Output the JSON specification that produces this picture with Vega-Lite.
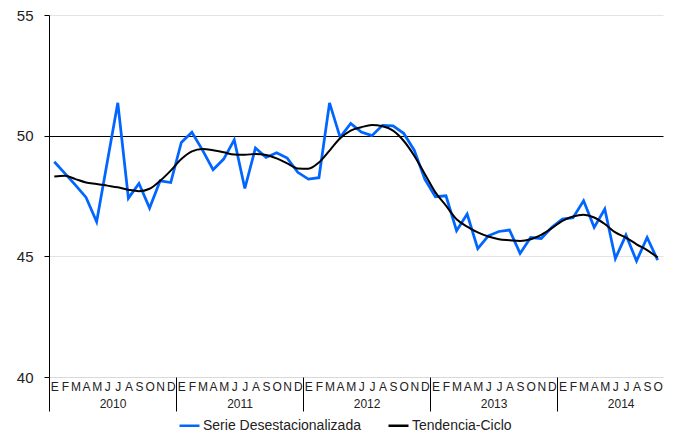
{
  "$schema": "https://vega.github.io/schema/vega-lite/v6.json",
  "autosize": {"type": "none"},
  "padding": {"left": 49, "top": 15, "right": 12, "bottom": 56},
  "width": 614,
  "height": 362,
  "background": "white",
  "config": {
    "view": {"stroke": null},
    "font": "Liberation Sans",
    "axis": {"labelFont": "Liberation Sans", "labelColor": "#222222"}
  },
  "datasets": {
    "serie": [
      {"m": 0, "v": 48.92}, {"m": 1, "v": 48.44}, {"m": 2, "v": 47.95}, {"m": 3, "v": 47.44},
      {"m": 4, "v": 46.43}, {"m": 5, "v": 48.9}, {"m": 6, "v": 51.36}, {"m": 7, "v": 47.41},
      {"m": 8, "v": 48.02}, {"m": 9, "v": 47.0}, {"m": 10, "v": 48.13}, {"m": 11, "v": 48.06},
      {"m": 12, "v": 49.72}, {"m": 13, "v": 50.14}, {"m": 14, "v": 49.4}, {"m": 15, "v": 48.59},
      {"m": 16, "v": 49.03}, {"m": 17, "v": 49.83}, {"m": 18, "v": 47.81}, {"m": 19, "v": 49.49},
      {"m": 20, "v": 49.1}, {"m": 21, "v": 49.29}, {"m": 22, "v": 49.07}, {"m": 23, "v": 48.48},
      {"m": 24, "v": 48.2}, {"m": 25, "v": 48.26}, {"m": 26, "v": 51.36}, {"m": 27, "v": 49.93},
      {"m": 28, "v": 50.51}, {"m": 29, "v": 50.15}, {"m": 30, "v": 50.0}, {"m": 31, "v": 50.43},
      {"m": 32, "v": 50.41}, {"m": 33, "v": 50.1}, {"m": 34, "v": 49.4}, {"m": 35, "v": 48.2},
      {"m": 36, "v": 47.47}, {"m": 37, "v": 47.51}, {"m": 38, "v": 46.06}, {"m": 39, "v": 46.75},
      {"m": 40, "v": 45.32}, {"m": 41, "v": 45.85}, {"m": 42, "v": 46.03}, {"m": 43, "v": 46.09},
      {"m": 44, "v": 45.12}, {"m": 45, "v": 45.78}, {"m": 46, "v": 45.74}, {"m": 47, "v": 46.2},
      {"m": 48, "v": 46.54}, {"m": 49, "v": 46.6}, {"m": 50, "v": 47.3}, {"m": 51, "v": 46.2},
      {"m": 52, "v": 46.96}, {"m": 53, "v": 44.91}, {"m": 54, "v": 45.88}, {"m": 55, "v": 44.81},
      {"m": 56, "v": 45.78}, {"m": 57, "v": 44.84}
    ],
    "tendencia": [
      {"m": 0, "v": 48.31}, {"m": 1, "v": 48.34}, {"m": 2, "v": 48.2}, {"m": 3, "v": 48.06},
      {"m": 4, "v": 48.0}, {"m": 5, "v": 47.93}, {"m": 6, "v": 47.86}, {"m": 7, "v": 47.76},
      {"m": 8, "v": 47.7}, {"m": 9, "v": 47.8}, {"m": 10, "v": 48.13}, {"m": 11, "v": 48.55},
      {"m": 12, "v": 49.03}, {"m": 13, "v": 49.35}, {"m": 14, "v": 49.45}, {"m": 15, "v": 49.4},
      {"m": 16, "v": 49.31}, {"m": 17, "v": 49.22}, {"m": 18, "v": 49.21}, {"m": 19, "v": 49.24},
      {"m": 20, "v": 49.2}, {"m": 21, "v": 49.06}, {"m": 22, "v": 48.85}, {"m": 23, "v": 48.64},
      {"m": 24, "v": 48.63}, {"m": 25, "v": 48.89}, {"m": 26, "v": 49.38}, {"m": 27, "v": 49.89},
      {"m": 28, "v": 50.21}, {"m": 29, "v": 50.35}, {"m": 30, "v": 50.44}, {"m": 31, "v": 50.39},
      {"m": 32, "v": 50.21}, {"m": 33, "v": 49.79}, {"m": 34, "v": 49.17}, {"m": 35, "v": 48.41},
      {"m": 36, "v": 47.65}, {"m": 37, "v": 47.1}, {"m": 38, "v": 46.54}, {"m": 39, "v": 46.23},
      {"m": 40, "v": 45.99}, {"m": 41, "v": 45.82}, {"m": 42, "v": 45.71}, {"m": 43, "v": 45.67},
      {"m": 44, "v": 45.64}, {"m": 45, "v": 45.71}, {"m": 46, "v": 45.89}, {"m": 47, "v": 46.17},
      {"m": 48, "v": 46.47}, {"m": 49, "v": 46.65}, {"m": 50, "v": 46.72}, {"m": 51, "v": 46.61},
      {"m": 52, "v": 46.34}, {"m": 53, "v": 45.99}, {"m": 54, "v": 45.78}, {"m": 55, "v": 45.5},
      {"m": 56, "v": 45.26}, {"m": 57, "v": 44.95}
    ]
  },
  "resolve": {"axis": {"x": "independent"}},
  "layer": [
    {
      "data": {"name": "serie"},
      "transform": [{"calculate": "'Serie Desestacionalizada'", "as": "s"}],
      "mark": {"type": "line", "strokeWidth": 2.75, "strokeJoin": "miter"},
      "encoding": {
        "x": {
          "field": "m", "type": "quantitative",
          "scale": {"domain": [-0.5, 57.5], "nice": false, "zero": false},
          "axis": {
            "orient": "bottom", "title": null,
            "values": [0,1,2,3,4,5,6,7,8,9,10,11,12,13,14,15,16,17,18,19,20,21,22,23,24,25,26,27,28,29,30,31,32,33,34,35,36,37,38,39,40,41,42,43,44,45,46,47,48,49,50,51,52,53,54,55,56,57],
            "labelExpr": "['E','F','M','A','M','J','J','A','S','O','N','D'][datum.value % 12]",
            "ticks": false, "grid": false,
            "domain": true, "domainColor": "#d9d9d9", "domainWidth": 1,
            "labelPadding": 4, "labelFontSize": 12, "labelOverlap": false,
            "labelBound": false, "labelFlush": false, "labelColor": "#222222"
          }
        },
        "y": {
          "field": "v", "type": "quantitative",
          "scale": {"domain": [40, 55], "nice": false, "zero": false},
          "axis": {
            "title": null, "values": [40, 45, 50, 55],
            "domain": true, "domainColor": "black", "domainWidth": 1,
            "ticks": true, "tickSize": 5, "tickColor": "black",
            "grid": true,
            "gridColor": {"condition": {"test": "datum.value === 50", "value": "black"}, "value": "#e3e3e3"},
            "gridWidth": 1,
            "labelPadding": 11, "labelFontSize": 15, "labelColor": "#222222"
          }
        },
        "color": {
          "field": "s", "type": "nominal",
          "scale": {"domain": ["Serie Desestacionalizada", "Tendencia-Ciclo"], "range": ["#0066ff", "#000000"]},
          "legend": {
            "title": null, "orient": "none", "direction": "horizontal",
            "legendX": 129, "legendY": 399,
            "symbolType": "stroke", "symbolSize": 400, "symbolStrokeWidth": 2.5,
            "labelFontSize": 14, "labelFont": "Liberation Sans", "labelColor": "#222222",
            "labelOffset": 2, "columnPadding": 22, "padding": 0
          }
        }
      }
    },
    {
      "data": {"name": "tendencia"},
      "transform": [{"calculate": "'Tendencia-Ciclo'", "as": "s"}],
      "mark": {"type": "line", "strokeWidth": 2, "interpolate": "monotone"},
      "encoding": {
        "x": {
          "field": "m", "type": "quantitative",
          "scale": {"domain": [-0.5, 57.5], "nice": false, "zero": false},
          "axis": {
            "orient": "bottom", "title": null,
            "values": [-0.5, 5.5, 11.5, 17.5, 23.5, 29.5, 35.5, 41.5, 47.5, 53.5],
            "labelExpr": "datum.value % 12 == 5.5 ? toString(2010 + floor(datum.value / 12)) : ''",
            "domain": false, "grid": false,
            "ticks": true, "tickSize": 34, "tickColor": "black", "tickWidth": 1,
            "tickOpacity": {"condition": {"test": "datum.value == -0.5 || datum.value % 12 == 11.5", "value": 1}, "value": 0},
            "labelPadding": -13, "labelFontSize": 12, "labelOverlap": false,
            "labelBound": false, "labelFlush": false, "labelColor": "#222222"
          }
        },
        "y": {"field": "v", "type": "quantitative"},
        "color": {"field": "s", "type": "nominal"}
      }
    }
  ]
}
